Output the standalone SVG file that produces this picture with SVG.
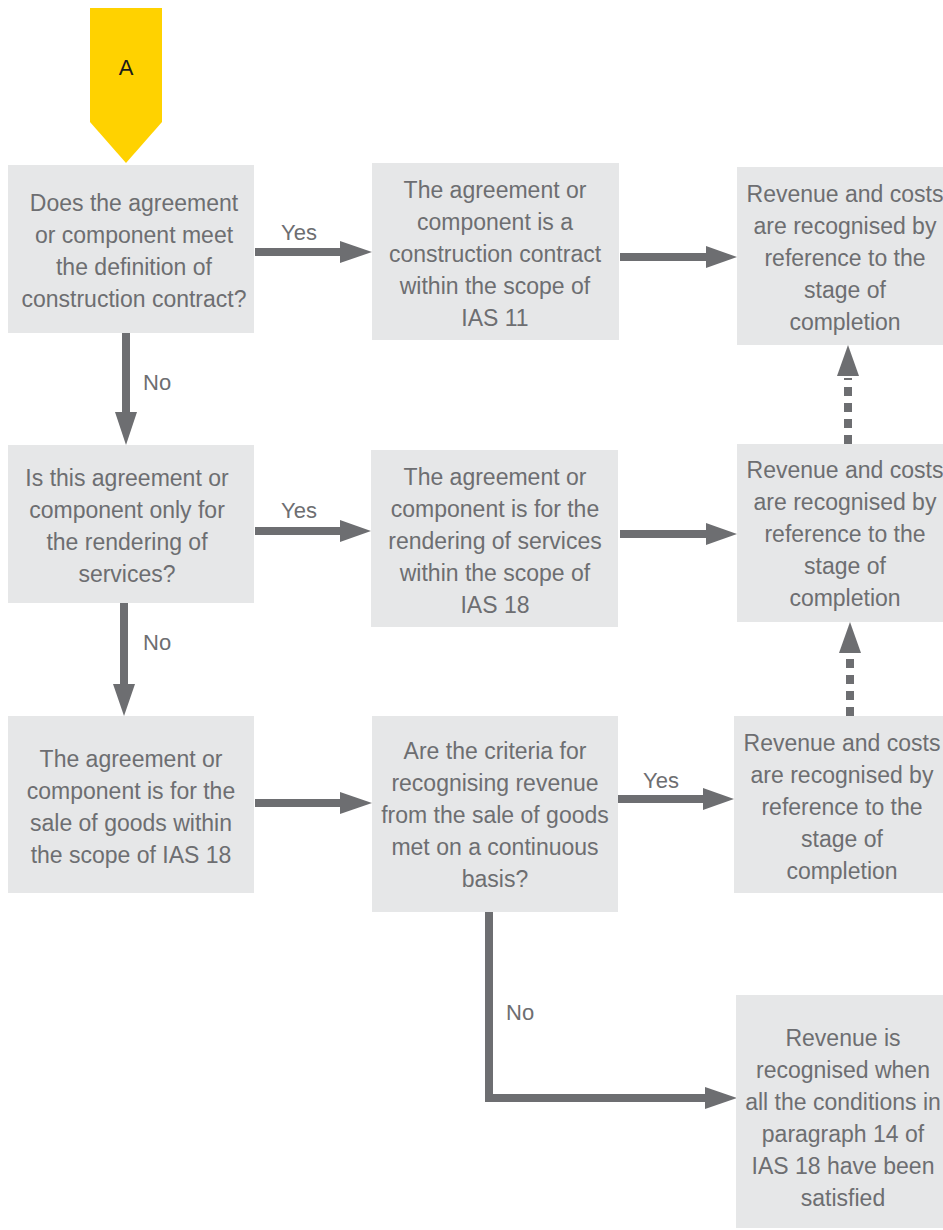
<svg xmlns="http://www.w3.org/2000/svg" width="943" height="1230" viewBox="0 0 943 1230">
<defs>
<style>
.box{fill:#e6e7e8}
.t{font-family:"Liberation Sans",Arial,sans-serif;font-size:23px;fill:#6d6e71;text-anchor:middle}
.lbl{font-family:"Liberation Sans",Arial,sans-serif;font-size:22px;fill:#6d6e71}
.ln{stroke:#6d6e71;stroke-width:8;fill:none}
.dash{stroke:#6d6e71;stroke-width:8;fill:none;stroke-dasharray:9 7}
.hd{fill:#6d6e71}
</style>
</defs>
<rect width="943" height="1230" fill="#ffffff"/>
<g id="start">
<polygon points="90,8 162,8 162,122 126,163 90,122" fill="#ffd200"/>
<text x="126" y="75" font-family="Liberation Sans,Arial,sans-serif" font-size="22" fill="#1a1a1a" text-anchor="middle">A</text>
</g>
<g id="connectors">
<line class="ln" x1="255" y1="252" x2="342" y2="252"/><polygon class="hd" points="340,241 372,252 340,263"/>
<text class="lbl" x="281" y="240">Yes</text>
<line class="ln" x1="620" y1="257" x2="708" y2="257"/><polygon class="hd" points="706,246 737,257 706,268"/>
<line class="ln" x1="126" y1="333" x2="126" y2="414"/><polygon class="hd" points="115,412 126,445 137,412"/>
<text class="lbl" x="143" y="390">No</text>
<line class="ln" x1="255" y1="531" x2="342" y2="531"/><polygon class="hd" points="340,520 371,531 340,542"/>
<text class="lbl" x="281" y="518">Yes</text>
<line class="ln" x1="620" y1="534" x2="708" y2="534"/><polygon class="hd" points="706,523 737,534 706,545"/>
<line class="ln" x1="124" y1="603" x2="124" y2="686"/><polygon class="hd" points="113,684 124,716 135,684"/>
<text class="lbl" x="143" y="650">No</text>
<line class="dash" x1="848" y1="444" x2="848" y2="378"/><polygon class="hd" points="837,376 848,345 859,376"/>
<line class="dash" x1="850" y1="716" x2="850" y2="655"/><polygon class="hd" points="839,653 850,622 861,653"/>
<line class="ln" x1="255" y1="803" x2="342" y2="803"/><polygon class="hd" points="340,792 372,803 340,814"/>
<line class="ln" x1="618" y1="799" x2="705" y2="799"/><polygon class="hd" points="703,788 734,799 703,810"/>
<text class="lbl" x="643" y="788">Yes</text>
<polyline class="ln" points="489,912 489,1098 707,1098"/><polygon class="hd" points="705,1087 737,1098 705,1109"/>
<text class="lbl" x="506" y="1020">No</text>
</g>
<g id="n1"><rect class="box" x="8" y="165" width="246" height="168"/>
<text class="t"><tspan x="134" y="211">Does the agreement</tspan><tspan x="134" y="243">or component meet</tspan><tspan x="134" y="275">the definition of</tspan><tspan x="134" y="307">construction contract?</tspan></text></g>
<g id="n2"><rect class="box" x="372" y="163" width="247" height="177"/>
<text class="t"><tspan x="495" y="198">The agreement or</tspan><tspan x="495" y="230">component is a</tspan><tspan x="495" y="262">construction contract</tspan><tspan x="495" y="294">within the scope of</tspan><tspan x="495" y="326">IAS 11</tspan></text></g>
<g id="n3"><rect class="box" x="737" y="167" width="206" height="178"/>
<text class="t"><tspan x="845" y="202">Revenue and costs</tspan><tspan x="845" y="234">are recognised by</tspan><tspan x="845" y="266">reference to the</tspan><tspan x="845" y="298">stage of</tspan><tspan x="845" y="330">completion</tspan></text></g>
<g id="n4"><rect class="box" x="8" y="445" width="246" height="158"/>
<text class="t"><tspan x="127" y="486">Is this agreement or</tspan><tspan x="127" y="518">component only for</tspan><tspan x="127" y="550">the rendering of</tspan><tspan x="127" y="582">services?</tspan></text></g>
<g id="n5"><rect class="box" x="371" y="450" width="247" height="177"/>
<text class="t"><tspan x="495" y="485">The agreement or</tspan><tspan x="495" y="517">component is for the</tspan><tspan x="495" y="549">rendering of services</tspan><tspan x="495" y="581">within the scope of</tspan><tspan x="495" y="613">IAS 18</tspan></text></g>
<g id="n6"><rect class="box" x="737" y="444" width="206" height="178"/>
<text class="t"><tspan x="845" y="478">Revenue and costs</tspan><tspan x="845" y="510">are recognised by</tspan><tspan x="845" y="542">reference to the</tspan><tspan x="845" y="574">stage of</tspan><tspan x="845" y="606">completion</tspan></text></g>
<g id="n7"><rect class="box" x="8" y="716" width="246" height="177"/>
<text class="t"><tspan x="131" y="767">The agreement or</tspan><tspan x="131" y="799">component is for the</tspan><tspan x="131" y="831">sale of goods within</tspan><tspan x="131" y="863">the scope of IAS 18</tspan></text></g>
<g id="n8"><rect class="box" x="372" y="716" width="246" height="196"/>
<text class="t"><tspan x="495" y="759">Are the criteria for</tspan><tspan x="495" y="791">recognising revenue</tspan><tspan x="495" y="823">from the sale of goods</tspan><tspan x="495" y="855">met on a continuous</tspan><tspan x="495" y="887">basis?</tspan></text></g>
<g id="n9"><rect class="box" x="734" y="716" width="209" height="177"/>
<text class="t"><tspan x="842" y="751">Revenue and costs</tspan><tspan x="842" y="783">are recognised by</tspan><tspan x="842" y="815">reference to the</tspan><tspan x="842" y="847">stage of</tspan><tspan x="842" y="879">completion</tspan></text></g>
<g id="n10"><rect class="box" x="736" y="995" width="207" height="233"/>
<text class="t"><tspan x="843" y="1046">Revenue is</tspan><tspan x="843" y="1078">recognised when</tspan><tspan x="843" y="1110">all the conditions in</tspan><tspan x="843" y="1142">paragraph 14 of</tspan><tspan x="843" y="1174">IAS 18 have been</tspan><tspan x="843" y="1206">satisfied</tspan></text></g>
</svg>
